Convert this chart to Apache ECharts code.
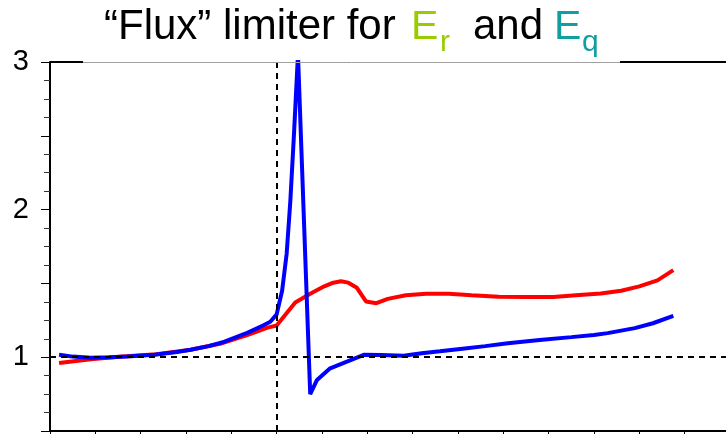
<!DOCTYPE html>
<html>
<head>
<meta charset="utf-8">
<script src="https://cdn.jsdelivr.net/npm/echarts@6/dist/echarts.min.js"></script>
<style>
  html, body { margin: 0; padding: 0; background: #fff; }
  #chart { width: 726px; height: 434px; }
</style>
</head>
<body>
<div id="chart"></div>
<script>
// Flux limiter profiles (blue: E_q curve, red: E_r curve), position vs. ratio
const blueX = [0.2, 0.5, 0.9, 1.3, 1.7, 2.3, 2.8, 3.1, 3.5, 3.85, 4.35, 4.7, 4.86, 5.0,
               5.12, 5.22, 5.3, 5.38, 5.47, 5.74, 5.89, 6.18, 6.55, 6.92, 7.3, 7.8,
               8.2, 8.6, 9.1, 9.6, 10.1, 10.8, 11.5, 12.0, 12.3, 12.9, 13.3, 13.75];
const blueY = [1.016, 1.004, 0.997, 1.0, 1.004, 1.016, 1.035, 1.05, 1.075, 1.105, 1.165, 1.215, 1.24, 1.29,
               1.45, 1.7, 2.05, 2.5, 3.05, 0.75, 0.846, 0.925, 0.97, 1.016, 1.015, 1.01,
               1.027, 1.04, 1.058, 1.075, 1.095, 1.117, 1.136, 1.15, 1.163, 1.197, 1.23, 1.28];

const redX = [0.2, 0.9, 1.6, 2.35, 3.1, 3.8, 4.35, 4.8, 5.0, 5.41, 5.74, 6.05, 6.25, 6.42,
              6.58, 6.77, 6.97, 7.2, 7.45, 7.85, 8.3, 8.8, 9.3, 9.9, 10.5, 11.1, 11.6,
              12.15, 12.6, 13.0, 13.4, 13.75];
const redY = [0.96, 0.986, 1.004, 1.02, 1.05, 1.095, 1.15, 1.2, 1.215, 1.37, 1.43, 1.48, 1.505, 1.515,
              1.505, 1.47, 1.378, 1.366, 1.395, 1.42, 1.43, 1.43, 1.42, 1.41, 1.408, 1.408, 1.42,
              1.432, 1.45, 1.48, 1.52, 1.59];

// Reference lines
const markX = 5;
const markY = 1;

// Axis ranges and ticks
const xMin = 0, xMax = 15, xStep = 1;
const yMin = 0.5, yMax = 3, yStep = 0.5;

const pairs = (xs, ys) => xs.map((x, i) => [x, ys[i]]);

// Title pieces: [text, colour, font size, left x, baseline y]
const FONT = 'Liberation Sans';
const titlePieces = [
  ['“Flux” limiter for', '#000000', 42, 104, 42],
  ['E', '#99cc00', 41, 411, 42],
  ['r', '#99cc00', 30, 440, 53],
  ['and', '#000000', 42, 473, 42],
  ['E', '#0f9f9f', 41, 554, 42],
  ['q', '#0f9f9f', 30, 582, 53]
];
// canvas 'middle' baseline sits about 0.3465 em above the alphabetic baseline
const MID = 0.3465;
const titleGraphics = titlePieces.map(([t, c, s, x, base]) => ({
  type: 'text', z: 10, x: x, y: base - MID * s,
  style: { text: t, fill: c, fontSize: s, fontFamily: FONT, verticalAlign: 'middle', align: 'left' }
}));

const chart = echarts.init(document.getElementById('chart'), null, { renderer: 'canvas' });

chart.setOption({
  animation: false,
  backgroundColor: '#fff',
  grid: { left: 50, right: -4, top: 62, bottom: 3, containLabel: false, outerBoundsMode: 'none' },
  xAxis: {
    type: 'value', min: xMin, max: xMax, interval: xStep,
    axisLine: { show: true, lineStyle: { color: '#000', width: 2 } },
    axisTick: { show: true, length: 5, lineStyle: { color: '#000', width: 1 } },
    axisLabel: { show: false },
    splitLine: { show: false }
  },
  yAxis: {
    type: 'value', min: yMin, max: yMax, interval: yStep,
    axisLine: { show: true, lineStyle: { color: '#000', width: 2 } },
    axisTick: { show: true, length: 9, lineStyle: { color: '#000', width: 1 } },
    minorTick: { show: true, splitNumber: 4, length: 6, lineStyle: { color: '#333', width: 1 } },
    axisLabel: {
      margin: 21,
      fontSize: 29,
      fontFamily: FONT,
      color: '#000',
      formatter: v => (Math.abs(v - Math.round(v)) < 1e-9 ? String(Math.round(v)) : '')
    },
    splitLine: { show: false }
  },
  graphic: [
    { type: 'line', z: 10, shape: { x1: 50, y1: 62, x2: 83, y2: 62 }, style: { stroke: '#000', lineWidth: 2 } },
    { type: 'line', z: 10, shape: { x1: 83, y1: 62.5, x2: 620, y2: 62.5 }, style: { stroke: '#a0a0a0', lineWidth: 1 } },
    { type: 'line', z: 10, shape: { x1: 620, y1: 62, x2: 726, y2: 62 }, style: { stroke: '#000', lineWidth: 2 } }
  ].concat(titleGraphics),
  series: [
    {
      type: 'line', data: pairs(redX, redY), symbol: 'none', smooth: false, z: 3,
      lineStyle: { color: '#ff0000', width: 4 }
    },
    {
      type: 'line', data: pairs(blueX, blueY), symbol: 'none', smooth: false, z: 4,
      lineStyle: { color: '#0000ff', width: 4 },
      markLine: {
        silent: true, symbol: 'none', animation: false,
        label: { show: false },
        lineStyle: { color: '#000', type: [6, 5], width: 2 },
        data: [{ xAxis: markX }, { yAxis: markY }]
      }
    }
  ]
});
</script>
</body>
</html>
